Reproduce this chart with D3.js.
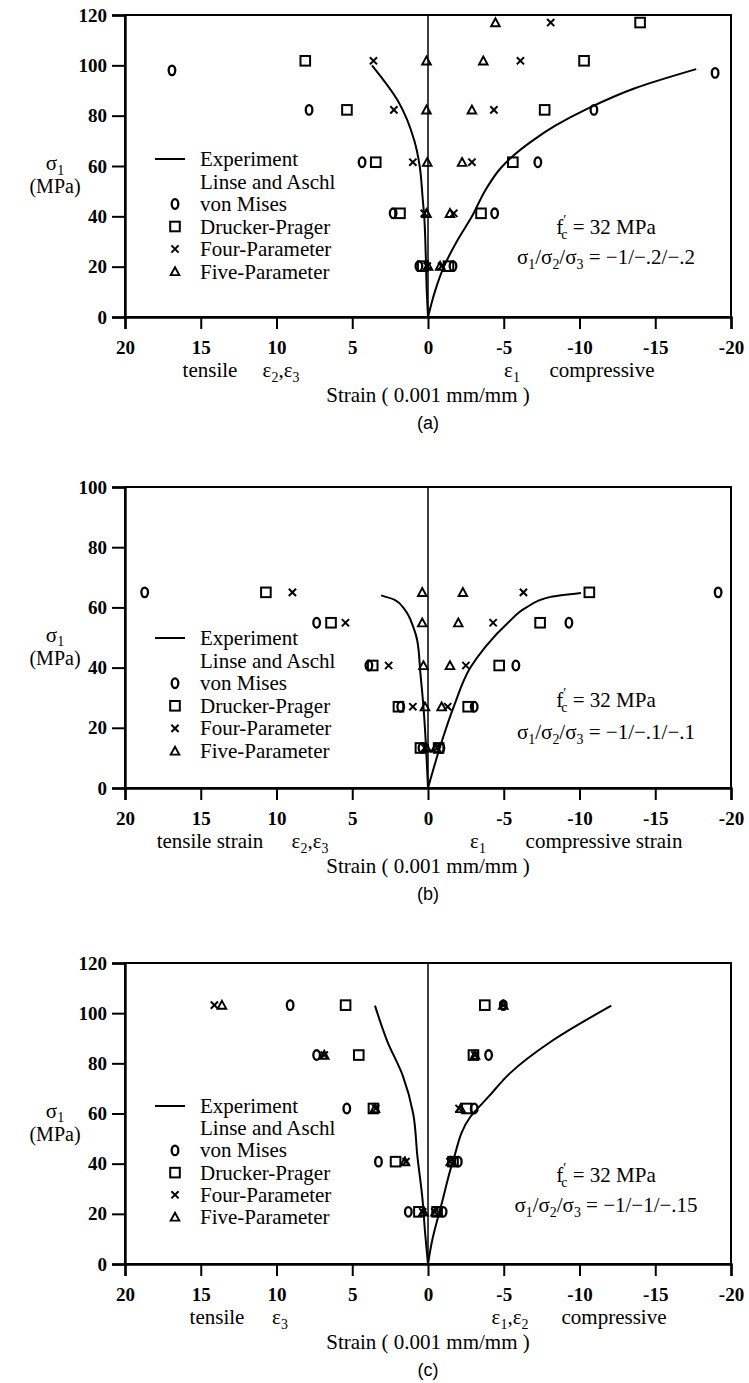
<!DOCTYPE html>
<html>
<head>
<meta charset="utf-8">
<script src="https://cdn.jsdelivr.net/npm/d3@7"></script>
<style>
  body { margin: 0; background: #fff; }
  text { font-family: "Liberation Serif", "Times New Roman", serif; fill: #000; }
</style>
</head>
<body>
<div id="chart"></div>
<script>
// ---- data (strain in 0.001 mm/mm, stress in MPa) ----
const xTicks = [20, 15, 10, 5, 0, -5, -10, -15, -20];
const yMaxes = [120, 100, 120];
const panelLabels = ["(a)", "(b)", "(c)"];
const ratioLabels = ["\u22121/\u2212.2/\u2212.2", "\u22121/\u2212.1/\u2212.1", "\u22121/\u22121/\u2212.15"];
const tensileLabels = ["tensile", "tensile strain", "tensile"];
const compressiveLabels = ["compressive", "compressive strain", "compressive"];
const tensileEps = [["2", "3"], ["2", "3"], ["3"]];
const compressiveEps = [["1"], ["1"], ["1", "2"]];
const legendLabels = ["Experiment", "Linse and Aschl", "von Mises", "Drucker-Prager", "Four-Parameter", "Five-Parameter"];

// experiment, Linse and Aschl
const expTensileA = [[0, 0], [0.08, 10], [0.15, 25], [0.25, 40], [0.35, 47], [0.55, 60], [0.9, 70], [2.0, 86], [3.7, 100]];
const expCompA = [[0, 0], [-0.45, 10], [-1.05, 20], [-1.9, 30], [-2.95, 40.5], [-3.75, 50], [-4.85, 59.5], [-5.7, 64.5], [-7.0, 70.5], [-8.4, 76], [-10.6, 83], [-13.7, 91], [-17.7, 98.5]];
const expTensileB = [[0, 0], [0.13, 13.7], [0.3, 27], [0.5, 38], [0.71, 49], [0.98, 53.6], [1.5, 59], [2.2, 62.5], [3.1, 64]];
const expCompB = [[0, 0], [-0.8, 13.7], [-1.7, 27], [-2.8, 40], [-3.8, 47], [-5.3, 55], [-6.5, 60], [-8.1, 63.5], [-10.1, 64.8]];
const expTensileC = [[0, 0], [0.2, 13], [0.35, 25], [0.7, 43], [0.98, 60], [1.66, 75], [2.7, 89], [3.5, 103]];
const expCompC = [[0, 0], [-0.24, 8.4], [-0.9, 24], [-1.64, 40.8], [-2.8, 58.7], [-4.0, 66.7], [-5.4, 76], [-8.1, 88.6], [-12.1, 103]];

// model predictions [strain, stress]
const vonMisesA = [[0.6, 20.2], [-1.65, 20.2], [2.3, 41.2], [-4.4, 41.2], [4.35, 61.5], [-7.25, 61.5], [7.85, 82.3], [-10.95, 82.3], [16.9, 98], [-18.95, 97]];
const druckerPragerA = [[0.35, 20.2], [-1.35, 20.2], [1.85, 41.2], [-3.5, 41.2], [3.45, 61.5], [-5.6, 61.5], [5.35, 82.3], [-7.7, 82.3], [8.1, 101.8], [-10.3, 101.8], [-14.0, 117]];
const fourParamA = [[0.05, 20.2], [-0.9, 20.2], [0.25, 41.2], [-1.7, 41.2], [1.0, 61.5], [-2.9, 61.5], [2.25, 82.3], [-4.35, 82.3], [3.6, 101.8], [-6.1, 101.8], [-8.1, 117]];
const fiveParamA = [[0.0, 20.2], [-0.8, 20.2], [0.1, 41.2], [-1.45, 41.2], [0.05, 61.5], [-2.25, 61.5], [0.1, 82.3], [-2.9, 82.3], [0.1, 101.8], [-3.65, 101.8], [-4.45, 117]];

const vonMisesB = [[0.4, 13.3], [-0.85, 13.3], [1.8, 27], [-3.05, 27], [3.9, 40.7], [-5.8, 40.7], [7.35, 54.9], [-9.3, 54.9], [18.7, 65], [-19.15, 65]];
const druckerPragerB = [[0.5, 13.3], [-0.7, 13.3], [1.95, 27], [-2.65, 27], [3.65, 40.7], [-4.7, 40.7], [6.4, 54.9], [-7.4, 54.9], [10.7, 65], [-10.65, 65]];
const fourParamB = [[0.2, 13.3], [-0.6, 13.3], [1.0, 27], [-1.3, 27], [2.6, 40.7], [-2.5, 40.7], [5.45, 54.9], [-4.3, 54.9], [8.95, 65], [-6.3, 65]];
const fiveParamB = [[0.1, 13.3], [-0.5, 13.3], [0.2, 27], [-0.9, 27], [0.3, 40.7], [-1.45, 40.7], [0.38, 54.9], [-2.0, 54.9], [0.38, 65], [-2.3, 65]];

const vonMisesC = [[1.3, 20.8], [-1.0, 20.8], [3.27, 40.8], [-2.0, 40.8], [5.36, 62], [-3.05, 62], [7.35, 83.3], [-4.0, 83.3], [9.1, 103.2], [-4.97, 103.2]];
const druckerPragerC = [[0.6, 20.8], [-0.6, 20.8], [2.14, 40.8], [-1.65, 40.8], [3.6, 62], [-2.55, 62], [4.57, 83.3], [-3.0, 83.3], [5.44, 103.2], [-3.75, 103.2]];
const fourParamC = [[0.35, 20.8], [-0.45, 20.8], [1.45, 40.8], [-1.45, 40.8], [3.45, 62], [-2.05, 62], [6.85, 83.3], [-3.1, 83.3], [14.1, 103.2], [-4.97, 103.2]];
const fiveParamC = [[0.3, 20.8], [-0.5, 20.8], [1.52, 40.8], [-1.5, 40.8], [3.5, 62], [-2.15, 62], [6.85, 83.3], [-3.1, 83.3], [13.6, 103.2], [-4.97, 103.2]];

// ---- layout ----
const width = 749, height = 1383;
const panels = [
  { top: 15, bottom: 317, legendY: 159, legendStep: 22.5, noteY: 227, noteGap: 30,
    exp: [expTensileA, expCompA], models: [vonMisesA, druckerPragerA, fourParamA, fiveParamA],
    subX: [210, 281, 512, 602] },
  { top: 487, bottom: 788, legendY: 638, legendStep: 22.6, noteY: 700, noteGap: 32,
    exp: [expTensileB, expCompB], models: [vonMisesB, druckerPragerB, fourParamB, fiveParamB],
    subX: [210, 310, 478, 604] },
  { top: 963, bottom: 1264, legendY: 1106, legendStep: 22.2, noteY: 1175, noteGap: 30,
    exp: [expTensileC, expCompC], models: [vonMisesC, druckerPragerC, fourParamC, fiveParamC],
    subX: [217, 280, 510, 614] }
];
const markerTypes = ["o", "square", "x", "triangle"];

const svg = d3.select("#chart")
  .append("svg")
  .attr("width", width)
  .attr("height", height);

const x = d3.scaleLinear().domain([20, -20]).range([125, 731]);

// text with sub/superscript pieces: [string, kind, dx]
function rich(textSel, parts, fs) {
  let shift = 0;
  parts.forEach(([str, kind, dx]) => {
    const target = kind === "sub" ? fs * 0.22 : kind === "sup" ? -fs * 0.42 : 0;
    const t = textSel.append("tspan").text(str).attr("dy", target - shift);
    if (kind) t.attr("font-size", fs * 0.66);
    if (dx) t.attr("dx", dx);
    shift = target;
  });
}

function drawMarker(g, type, cx, cy) {
  if (type === "o") {
    g.append("ellipse").attr("cx", cx).attr("cy", cy).attr("rx", 3.3).attr("ry", 4.8)
      .attr("fill", "none").attr("stroke", "#000").attr("stroke-width", 2.3);
  } else if (type === "square") {
    g.append("rect").attr("x", cx - 4.8).attr("y", cy - 4.8).attr("width", 9.6).attr("height", 9.6)
      .attr("fill", "none").attr("stroke", "#000").attr("stroke-width", 2);
  } else if (type === "x") {
    const s = 3.6;
    g.append("path").attr("d", `M${cx - s},${cy - s}L${cx + s},${cy + s}M${cx - s},${cy + s}L${cx + s},${cy - s}`)
      .attr("stroke", "#000").attr("stroke-width", 2).attr("fill", "none");
  } else {
    const s = 4.3;
    g.append("path").attr("d", `M${cx},${cy - s}L${cx + s},${cy + s * 0.85}L${cx - s},${cy + s * 0.85}Z`)
      .attr("stroke", "#000").attr("stroke-width", 1.9).attr("fill", "none");
  }
}

panels.forEach((p, i) => {
  const y = d3.scaleLinear().domain([0, yMaxes[i]]).range([p.bottom, p.top]);
  const g = svg.append("g");

  // frame and zero line
  g.append("rect")
    .attr("x", x(20)).attr("y", p.top)
    .attr("width", x(-20) - x(20)).attr("height", p.bottom - p.top)
    .attr("fill", "none").attr("stroke", "#000").attr("stroke-width", 2);
  g.append("line")
    .attr("x1", x(0)).attr("x2", x(0)).attr("y1", p.top).attr("y2", p.bottom)
    .attr("stroke", "#000").attr("stroke-width", 1.5);

  // axes
  const xAxis = g.append("g")
    .attr("transform", `translate(0,${p.bottom})`)
    .call(d3.axisBottom(x).tickValues(xTicks).tickSize(12).tickPadding(12).tickFormat(d => String(d)));
  const yAxis = g.append("g")
    .attr("transform", `translate(${x(20)},0)`)
    .call(d3.axisLeft(y).ticks(yMaxes[i] / 20).tickSize(13).tickPadding(5).tickFormat(d => String(d)));
  [xAxis, yAxis].forEach(a => {
    a.select(".domain").attr("stroke-width", 2.4);
    a.selectAll(".tick line").attr("stroke-width", 2);
    a.selectAll(".tick text")
      .attr("font-family", "'Liberation Serif', serif")
      .attr("font-size", 19).attr("font-weight", "bold").attr("fill", "#000");
  });

  // y label
  const mid = (p.top + p.bottom) / 2;
  const yl = g.append("text").attr("x", 55).attr("y", mid + 4).attr("text-anchor", "middle").attr("font-size", 21);
  rich(yl, [["σ"], ["1", "sub"]], 21);
  g.append("text").attr("x", 55).attr("y", mid + 27).attr("text-anchor", "middle")
    .attr("font-size", 20).text("(MPa)");

  // sub labels under x axis
  const subY = p.bottom + 60;
  g.append("text").attr("x", p.subX[0]).attr("y", subY).attr("text-anchor", "middle")
    .attr("font-size", 21).text(tensileLabels[i]);
  const te = g.append("text").attr("x", p.subX[1]).attr("y", subY).attr("text-anchor", "middle").attr("font-size", 21);
  rich(te, tensileEps[i].flatMap((n, k) => (k ? [[","], ["ε"], [n, "sub"]] : [["ε"], [n, "sub"]])), 21);
  const ce = g.append("text").attr("x", p.subX[2]).attr("y", subY).attr("text-anchor", "middle").attr("font-size", 21);
  rich(ce, compressiveEps[i].flatMap((n, k) => (k ? [[","], ["ε"], [n, "sub"]] : [["ε"], [n, "sub"]])), 21);
  g.append("text").attr("x", p.subX[3]).attr("y", subY).attr("text-anchor", "middle")
    .attr("font-size", 21).text(compressiveLabels[i]);
  g.append("text").attr("x", x(0)).attr("y", p.bottom + 85).attr("text-anchor", "middle")
    .attr("font-size", 21).text("Strain ( 0.001 mm/mm )");
  g.append("text").attr("x", x(0)).attr("y", p.bottom + 112).attr("text-anchor", "middle")
    .style("font-family", "'Liberation Sans', Arial, sans-serif").attr("font-size", 18).text(panelLabels[i]);

  // experiment curves
  const line = d3.line().x(d => x(d[0])).y(d => y(d[1])).curve(d3.curveMonotoneY);
  p.exp.forEach(branch => {
    g.append("path").datum(branch).attr("d", line)
      .attr("fill", "none").attr("stroke", "#000").attr("stroke-width", 2);
  });

  // model markers
  p.models.forEach((series, m) => {
    series.forEach(d => drawMarker(g, markerTypes[m], x(d[0]), y(d[1])));
  });

  // legend
  legendLabels.forEach((lab, k) => {
    const ly = p.legendY + k * p.legendStep;
    if (k === 0) {
      g.append("line").attr("x1", 155).attr("x2", 185).attr("y1", ly).attr("y2", ly)
        .attr("stroke", "#000").attr("stroke-width", 2);
    } else if (k > 1) {
      drawMarker(g, markerTypes[k - 2], 175, ly);
    }
    g.append("text").attr("x", 200).attr("y", ly + 7).attr("font-size", 21).text(lab);
  });

  // material note
  const n1 = g.append("text").attr("x", 606).attr("y", p.noteY + 7).attr("text-anchor", "middle").attr("font-size", 21);
  rich(n1, [["f"], ["′", "sup"], ["c", "sub", -5], [" = 32 MPa"]], 21);
  const n2 = g.append("text").attr("x", 606).attr("y", p.noteY + p.noteGap + 7).attr("text-anchor", "middle").attr("font-size", 21);
  rich(n2, [["σ"], ["1", "sub"], ["/σ"], ["2", "sub"], ["/σ"], ["3", "sub"], [" = " + ratioLabels[i]]], 21);
});
</script>
</body>
</html>
